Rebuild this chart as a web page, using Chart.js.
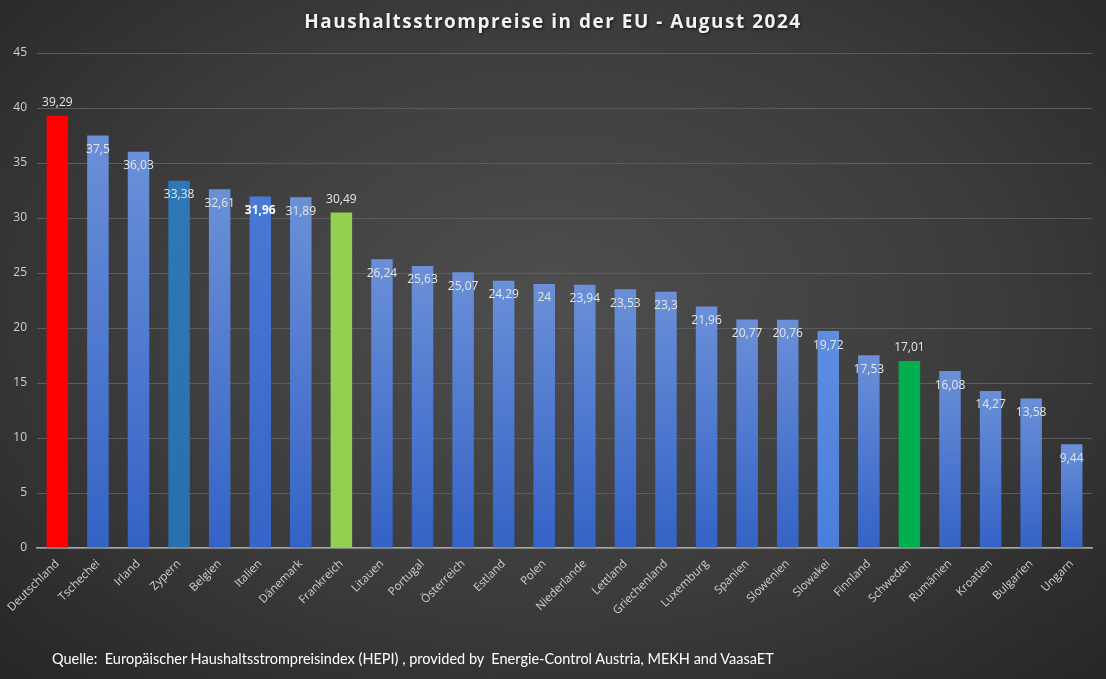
<!DOCTYPE html>
<html>
<head>
<meta charset="utf-8">
<script src="https://cdn.jsdelivr.net/npm/chart.js@4.4.1/dist/chart.umd.min.js"></script>
<style>
    html, body {
        margin: 0;
        padding: 0;
    }
    body {
        width: 1106px;
        height: 679px;
        overflow: hidden;
        position: relative;
        background: radial-gradient(ellipse at 50% 45%, #4e4e4e 0%, #3c3c3c 55%, #262626 100%);
        font-family: 'Open Sans', sans-serif;
    }
    .chart-wrap {
        position: absolute;
        left: 0;
        top: 0;
        width: 1106px;
        height: 679px;
    }
    .title {
        position: absolute;
        top: 8px;
        left: 0;
        width: 1106px;
        text-align: center;
        color: #f2f2f2;
        font-weight: bold;
        font-size: 19px;
        letter-spacing: 1.5px;
        text-shadow: 1px 1px 3px rgba(0, 0, 0, 0.7);
    }
    .source {
        position: absolute;
        left: 52px;
        top: 650px;
        color: #ffffff;
        font-family: 'Lato', sans-serif;
        font-size: 14.5px;
        white-space: pre;
    }
</style>
</head>
<body>
<div class="chart-wrap"><canvas id="barChart"></canvas></div>
<div class="title">Haushaltsstrompreise in der EU - August 2024</div>
<div class="source">Quelle:  Europäischer Haushaltsstrompreisindex (HEPI) , provided by  Energie-Control Austria, MEKH and VaasaET</div>
<script>
const countries = ['Deutschland', 'Tschechei', 'Irland', 'Zypern', 'Belgien', 'Italien', 'Dänemark', 'Frankreich',
    'Litauen', 'Portugal', 'Österreich', 'Estland', 'Polen', 'Niederlande', 'Lettland', 'Griechenland',
    'Luxemburg', 'Spanien', 'Slowenien', 'Slowakei', 'Finnland', 'Schweden', 'Rumänien', 'Kroatien',
    'Bulgarien', 'Ungarn'];
const prices = [39.29, 37.5, 36.03, 33.38, 32.61, 31.96, 31.89, 30.49,
    26.24, 25.63, 25.07, 24.29, 24, 23.94, 23.53, 23.3,
    21.96, 20.77, 20.76, 19.72, 17.53, 17.01, 16.08, 14.27,
    13.58, 9.44];
const yTicks = [0, 5, 10, 15, 20, 25, 30, 35, 40, 45];

// highlighted bars (others use the blue gradient)
const specialColors = {
    'Deutschland': ['#ff0000', '#ff0000'],
    'Frankreich': ['#92d050', '#92d050'],
    'Schweden': ['#00b050', '#00b050'],
    'Zypern': ['#2e78b8', '#2a6fb0'],
    'Italien': ['#4a78d6', '#3565c8'],
    'Slowakei': ['#5e8ee0', '#4a7edb']
};
const blueTop = '#6b90d8';
const blueBottom = '#3463c6';
// these get their value above the bar instead of inside
const labelAbove = ['Deutschland', 'Frankreich', 'Schweden'];

const barFill = (ctx) => {
    const chart = ctx.chart;
    const name = countries[ctx.dataIndex];
    const pair = specialColors[name] || [blueTop, blueBottom];
    const y = chart.scales.y;
    if (!chart.chartArea || !y) {
        return pair[1];
    }
    const top = y.getPixelForValue(prices[ctx.dataIndex]);
    const bottom = y.getPixelForValue(0);
    const grad = chart.ctx.createLinearGradient(0, top, 0, bottom);
    grad.addColorStop(0, pair[0]);
    grad.addColorStop(1, pair[1]);
    return grad;
};

const valueLabels = {
    id: 'valueLabels',
    afterDatasetsDraw(chart) {
        const ctx = chart.ctx;
        const meta = chart.getDatasetMeta(0);
        ctx.save();
        ctx.textAlign = 'center';
        ctx.textBaseline = 'middle';
        meta.data.forEach((bar, i) => {
            const name = countries[i];
            const text = String(prices[i]).replace('.', ',');
            ctx.font = (name === 'Italien' ? 'bold ' : '') + '12px "Open Sans"';
            ctx.fillStyle = name === 'Italien' ? '#ffffff' : '#e6e6e6';
            const y = labelAbove.includes(name) ? bar.y - 13 : bar.y + 14;
            ctx.fillText(text, bar.x, y);
        });
        ctx.restore();
    }
};

new Chart(
    document.getElementById('barChart'),
    {
        type: 'bar',
        data: {
            labels: countries,
            datasets: [{
                label: 'Haushaltsstrompreise',
                data: prices,
                backgroundColor: barFill,
                borderWidth: 0,
                barPercentage: 0.53,
                categoryPercentage: 1
            }]
        },
        options: {
            responsive: true,
            maintainAspectRatio: false,
            animation: false,
            layout: {
                padding: { top: 53, right: 14, bottom: 51, left: 0 }
            },
            plugins: {
                legend: { display: false },
                tooltip: { enabled: false }
            },
            scales: {
                x: {
                    afterFit: (scale) => { scale.height = 80; },
                    grid: {
                        display: false,
                        drawTicks: false
                    },
                    border: {
                        display: true,
                        color: '#a6a6a6',
                        width: 1.5
                    },
                    ticks: {
                        minRotation: 45,
                        maxRotation: 45,
                        padding: 9,
                        color: '#d0d0d0',
                        font: { family: "'Open Sans'", size: 11.5 }
                    }
                },
                y: {
                    min: 0,
                    max: 45,
                    afterFit: (scale) => { scale.width = 37; },
                    afterBuildTicks: (scale) => {
                        scale.ticks = yTicks.map(v => ({ value: v }));
                    },
                    grid: {
                        color: '#5c5c5c',
                        lineWidth: 1,
                        drawTicks: false
                    },
                    border: { display: false },
                    ticks: {
                        padding: 10,
                        color: '#d0d0d0',
                        font: { family: "'Open Sans'", size: 12 }
                    }
                }
            }
        },
        plugins: [valueLabels]
    }
);
</script>
</body>
</html>
